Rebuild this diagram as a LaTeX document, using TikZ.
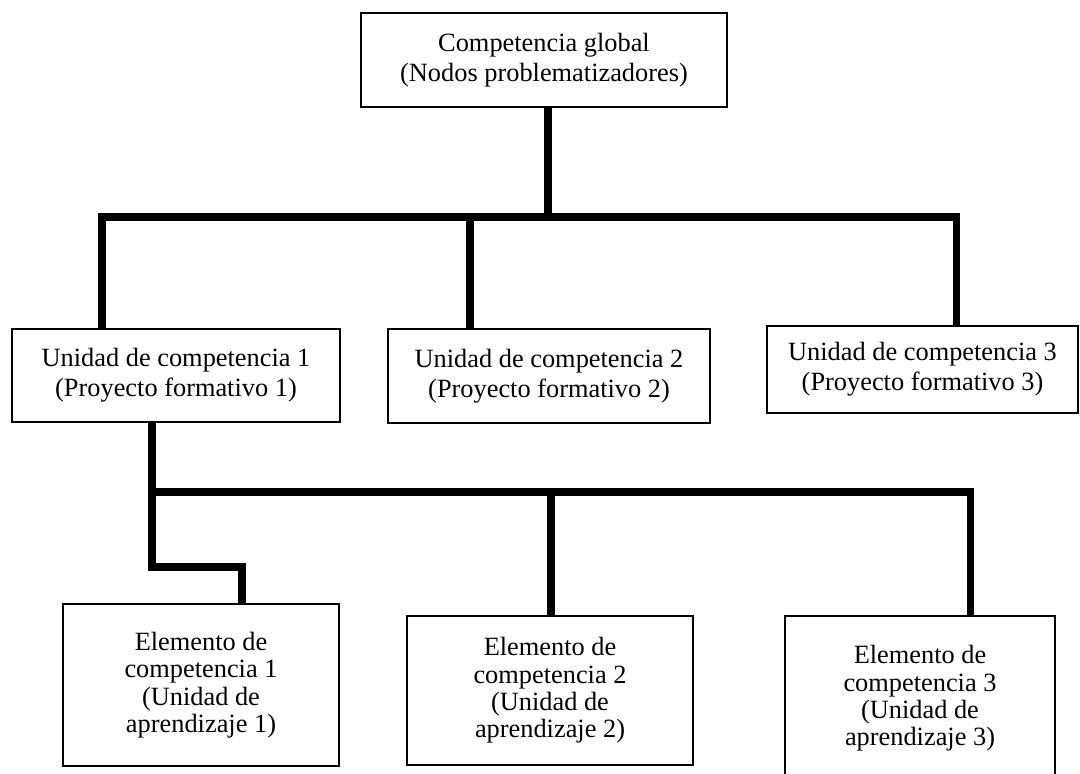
\documentclass[tikz,border=0pt]{standalone}
\usepackage{fontspec}
\setmainfont{Liberation Serif}
\usepackage{tikz}

\begin{document}
\begin{tikzpicture}[
    box/.style={draw, line width=1.1pt, align=center, inner sep=0pt,
      font=\fontsize{15}{17}\selectfont},
    elbox/.style={box, font=\fontsize{15}{15.6}\selectfont},
    stem/.style={line width=4pt, line join=miter},
    bus/.style={line width=5pt, line cap=rect}
  ]
    \useasboundingbox (0,0) rectangle (21.6,-15.48);
    \node[box, minimum width=7.32cm, minimum height=1.88cm] (top) at (10.88,-1.2)
      {Competencia global\\(Nodos problematizadores)};
    \node[box, minimum width=6.56cm, minimum height=1.86cm] (u1) at (3.52,-7.51)
      {Unidad de competencia 1\\(Proyecto formativo 1)};
    \node[box, minimum width=6.44cm, minimum height=1.88cm] (u2) at (10.98,-7.52)
      {Unidad de competencia 2\\(Proyecto formativo 2)};
    \node[box, minimum width=6.22cm, minimum height=1.74cm] (u3) at (18.45,-7.39)
      {Unidad de competencia 3\\(Proyecto formativo 3)};
    \node[elbox, minimum width=5.52cm, minimum height=3.24cm] (e1) at (4.02,-13.7)
      {Elemento de\\competencia 1\\(Unidad de\\aprendizaje 1)};
    \node[elbox, minimum width=5.72cm, minimum height=2.98cm] (e2) at (11.0,-13.81)
      {Elemento de\\competencia 2\\(Unidad de\\aprendizaje 2)};
    \node[elbox, minimum width=5.4cm, minimum height=3.3cm] (e3) at (18.4,-13.97)
      {Elemento de\\competencia 3\\(Unidad de\\aprendizaje 3)};
    \coordinate (b1) at (2.04,-4.34);
    \coordinate (b2) at (9.4,-4.34);
    \coordinate (b3) at (19.12,-4.34);
    \coordinate (j1) at (3.04,-9.84);
    \coordinate (j2) at (11.02,-9.84);
    \coordinate (j3) at (19.4,-9.84);
    \coordinate (s1) at (3.04,-11.34);
    \coordinate (s2) at (4.84,-11.34);
    \draw[stem] ([xshift=0.08cm]top.south) -- ([xshift=0.08cm]top.south |- b1);
    \draw[stem] (b1) -- (b1 |- u1.north);
    \draw[stem] (b2) -- (b2 |- u2.north);
    \draw[stem] (b3) -- (b3 |- u3.north);
    \draw[bus] (b1) -- (b3);
    \draw[stem] (j1 |- u1.south) -- (s1) -- (s2) -- (s2 |- e1.north);
    \draw[stem] (j2) -- (j2 |- e2.north);
    \draw[stem] (j3) -- (j3 |- e3.north);
    \draw[bus] (j1) -- (j3);
  \end{tikzpicture}
\end{document}
